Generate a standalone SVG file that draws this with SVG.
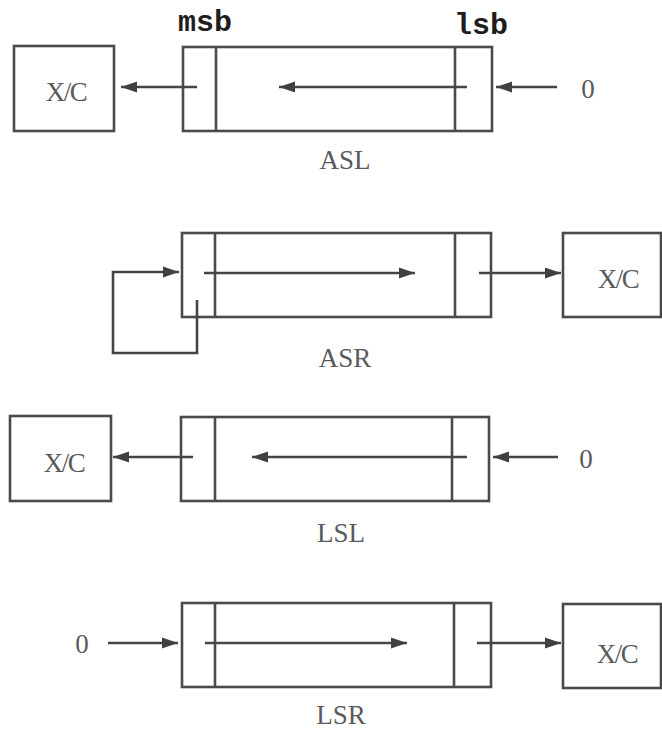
<svg xmlns="http://www.w3.org/2000/svg" width="662" height="731" viewBox="0 0 662 731">
  <style>
    .box { fill: #ffffff; stroke: #4a4a4a; stroke-width: 2.6; }
    .div { stroke: #4a4a4a; stroke-width: 2.6; fill: none; }
    .wire { stroke: #454545; stroke-width: 2.6; fill: none; marker-end: url(#head); }
    .lbl { font-family: "Liberation Serif", "Times New Roman", serif; font-size: 27px; fill: #5a5a5a; text-anchor: middle; }
    .xc { letter-spacing: -1.5px; }
    .bit { font-family: "Liberation Mono", "Courier New", monospace; font-weight: bold; font-size: 30px; fill: #1e1e1e; }
  </style>
  <defs>
    <marker id="head" markerUnits="userSpaceOnUse" markerWidth="17" markerHeight="12" refX="16" refY="6" orient="auto">
      <path d="M0,0.5 L16,6 L0,11.5 z" fill="#404040"/>
    </marker>
  </defs>
  <rect width="662" height="731" fill="#ffffff"/>

  <!-- bit position captions -->
  <text class="bit" x="178" y="31">msb</text>
  <text class="bit" x="454" y="34">lsb</text>

  <!-- ASL row -->
  <g id="asl-carry">
    <rect class="box" x="14" y="46" width="100" height="85"/>
    <text class="lbl xc" x="66" y="101">X/C</text>
  </g>
  <g id="asl-register">
    <rect class="box" x="183" y="47" width="309" height="84"/>
    <line class="div" x1="216" y1="47" x2="216" y2="131"/>
    <line class="div" x1="455" y1="47" x2="455" y2="131"/>
    <text class="lbl" x="345" y="169">ASL</text>
  </g>
  <g id="asl-zero">
    <text class="lbl" x="588" y="98">0</text>
  </g>

  <!-- ASR row -->
  <g id="asr-register">
    <rect class="box" x="182" y="233" width="309" height="84"/>
    <line class="div" x1="215" y1="233" x2="215" y2="317"/>
    <line class="div" x1="455" y1="233" x2="455" y2="317"/>
    <text class="lbl" x="345" y="367">ASR</text>
  </g>
  <g id="asr-carry">
    <rect class="box" x="563" y="233" width="98" height="84"/>
    <text class="lbl xc" x="618" y="288">X/C</text>
  </g>

  <!-- LSL row -->
  <g id="lsl-carry">
    <rect class="box" x="10" y="416" width="101" height="85"/>
    <text class="lbl xc" x="64" y="472">X/C</text>
  </g>
  <g id="lsl-register">
    <rect class="box" x="181" y="417" width="308" height="84"/>
    <line class="div" x1="215" y1="417" x2="215" y2="501"/>
    <line class="div" x1="452" y1="417" x2="452" y2="501"/>
    <text class="lbl" x="341" y="542">LSL</text>
  </g>
  <g id="lsl-zero">
    <text class="lbl" x="586" y="468">0</text>
  </g>

  <!-- LSR row -->
  <g id="lsr-zero">
    <text class="lbl" x="82" y="653">0</text>
  </g>
  <g id="lsr-register">
    <rect class="box" x="182" y="603" width="309" height="84"/>
    <line class="div" x1="215" y1="603" x2="215" y2="687"/>
    <line class="div" x1="454" y1="603" x2="454" y2="687"/>
    <text class="lbl" x="341" y="724">LSR</text>
  </g>
  <g id="lsr-carry">
    <rect class="box" x="563" y="604" width="98" height="84"/>
    <text class="lbl xc" x="617" y="663">X/C</text>
  </g>

  <!-- connectors -->
  <g id="connectors">
    <!-- ASL -->
    <line class="wire" x1="197" y1="87" x2="121" y2="87"/>
    <line class="wire" x1="467" y1="87" x2="279" y2="87"/>
    <line class="wire" x1="557" y1="87" x2="496" y2="87"/>
    <!-- ASR -->
    <path class="wire" d="M197,300 V353 H113 V272 H179"/>
    <line class="wire" x1="204" y1="273" x2="415" y2="273"/>
    <line class="wire" x1="479" y1="273" x2="561" y2="273"/>
    <!-- LSL -->
    <line class="wire" x1="193" y1="457" x2="113" y2="457"/>
    <line class="wire" x1="467" y1="457" x2="252" y2="457"/>
    <line class="wire" x1="558" y1="457" x2="493" y2="457"/>
    <!-- LSR -->
    <line class="wire" x1="108" y1="643" x2="178" y2="643"/>
    <line class="wire" x1="205" y1="643" x2="407" y2="643"/>
    <line class="wire" x1="477" y1="643" x2="561" y2="643"/>
  </g>
</svg>
